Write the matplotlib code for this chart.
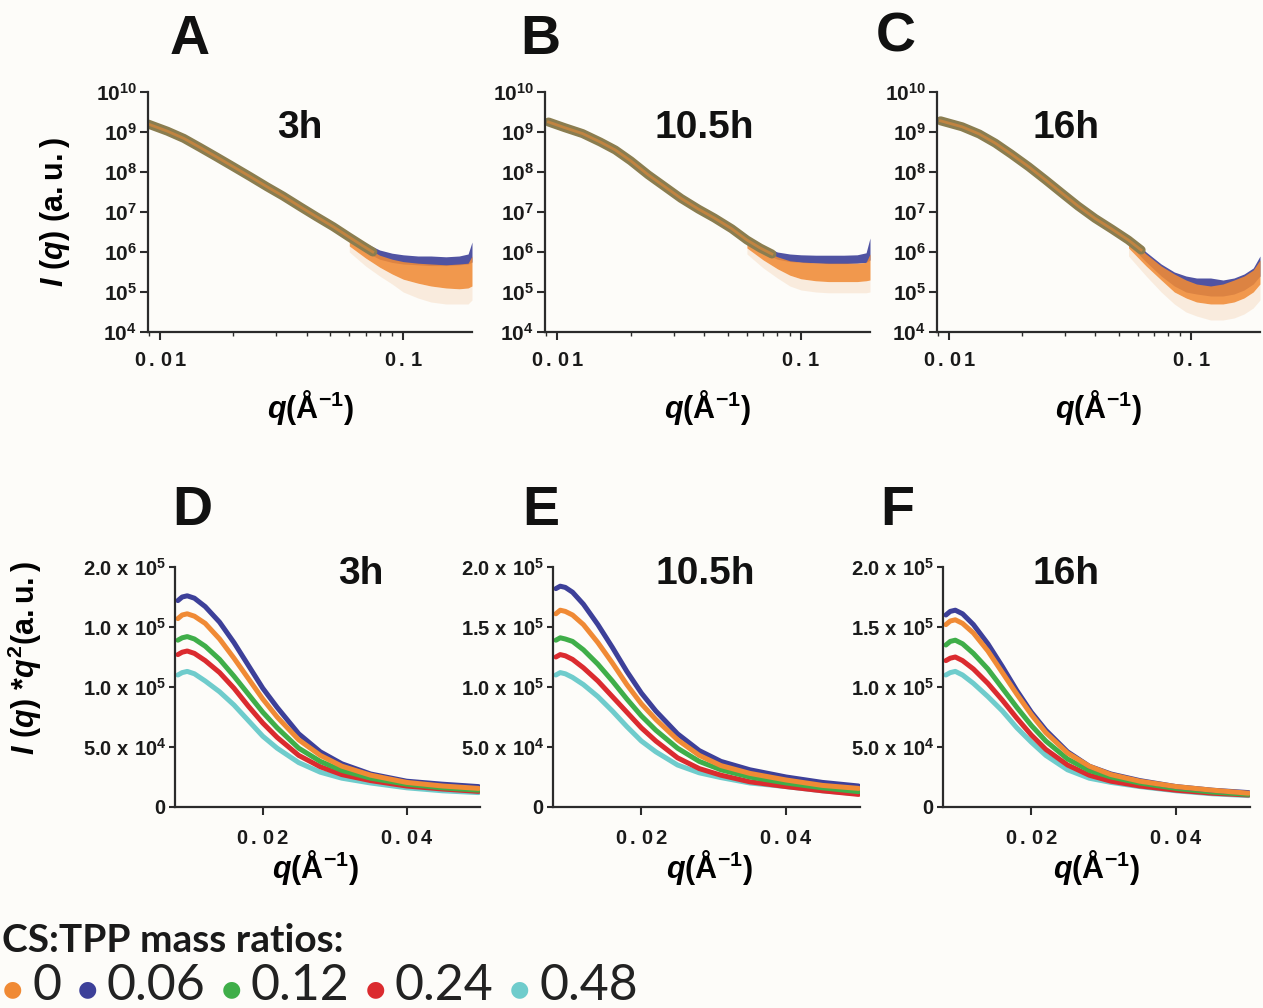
import numpy as np
import matplotlib
matplotlib.use('Agg')
import matplotlib.pyplot as plt
from matplotlib.ticker import FixedLocator, FixedFormatter, LogLocator, NullFormatter

plt.rcParams['font.family'] = 'Liberation Sans'
plt.rcParams['font.weight'] = 'bold'
plt.rcParams['mathtext.fontset'] = 'custom'
plt.rcParams['mathtext.rm'] = 'Liberation Sans:bold'
plt.rcParams['mathtext.it'] = 'Liberation Sans:italic:bold'
plt.rcParams['mathtext.bf'] = 'Liberation Sans:bold'

ratios = ['0', '0.06', '0.12', '0.24', '0.48']
colors = ['#f08a35', '#3d4099', '#3fae49', '#db2b2f', '#6fcccc']
times = ['3h', '10.5h', '16h']
top_letters = ['A', 'B', 'C']
bot_letters = ['D', 'E', 'F']

# I(q) profiles, log10 of intensity (all ratios overlap at low q)
saxs_q = [
    [0.0089, 0.0107, 0.0125, 0.0146, 0.0170, 0.0200, 0.0235, 0.0275, 0.0320, 0.0377, 0.0440, 0.0516, 0.0600, 0.0680, 0.0750],
    [0.0092, 0.0107, 0.0127, 0.0150, 0.0173, 0.0200, 0.0236, 0.0275, 0.0322, 0.0380, 0.0441, 0.0520, 0.0600, 0.0680, 0.0760],
    [0.0092, 0.0113, 0.0133, 0.0155, 0.0180, 0.0213, 0.0250, 0.0292, 0.0340, 0.0400, 0.0470, 0.0549, 0.0620],
]
saxs_logI = [
    [9.20, 9.02, 8.84, 8.61, 8.38, 8.13, 7.88, 7.63, 7.40, 7.13, 6.88, 6.63, 6.37, 6.16, 6.00],
    [9.25, 9.11, 8.96, 8.75, 8.55, 8.28, 7.93, 7.64, 7.34, 7.07, 6.85, 6.58, 6.30, 6.10, 5.95],
    [9.28, 9.13, 8.95, 8.72, 8.45, 8.13, 7.80, 7.47, 7.15, 6.84, 6.57, 6.30, 6.05],
]

# high-q scatter envelopes (log10 I) for 0.06 (blue) and 0 (orange)
tail_q = [
    [0.060, 0.070, 0.080, 0.090, 0.100, 0.115, 0.130, 0.150, 0.170, 0.185, 0.192],
    [0.060, 0.070, 0.080, 0.090, 0.100, 0.115, 0.130, 0.150, 0.170, 0.185, 0.192],
    [0.055, 0.065, 0.075, 0.085, 0.095, 0.105, 0.120, 0.135, 0.150, 0.165, 0.180, 0.192],
]
blue_hi = [
    [6.45, 6.22, 6.05, 5.97, 5.93, 5.90, 5.90, 5.88, 5.90, 5.95, 6.25],
    [6.40, 6.15, 6.00, 5.95, 5.93, 5.92, 5.92, 5.92, 5.93, 5.98, 6.35],
    [6.40, 6.00, 5.70, 5.50, 5.40, 5.35, 5.35, 5.30, 5.35, 5.45, 5.60, 5.90],
]
blue_lo = [
    [6.30, 6.00, 5.82, 5.74, 5.70, 5.68, 5.66, 5.66, 5.68, 5.70, 5.75],
    [6.25, 5.98, 5.82, 5.76, 5.74, 5.72, 5.71, 5.71, 5.72, 5.74, 5.80],
    [6.20, 5.75, 5.40, 5.15, 5.00, 4.95, 4.90, 4.90, 4.95, 5.05, 5.20, 5.40],
]
orange_hi = [
    [6.38, 6.12, 5.92, 5.82, 5.76, 5.72, 5.70, 5.68, 5.70, 5.72, 5.90],
    [6.32, 6.05, 5.88, 5.78, 5.75, 5.73, 5.72, 5.72, 5.72, 5.74, 5.95],
    [6.35, 5.95, 5.65, 5.45, 5.30, 5.20, 5.15, 5.20, 5.30, 5.40, 5.55, 5.80],
]
orange_lo = [
    [6.15, 5.85, 5.62, 5.45, 5.32, 5.22, 5.15, 5.10, 5.08, 5.10, 5.15],
    [6.10, 5.80, 5.58, 5.42, 5.33, 5.28, 5.26, 5.26, 5.26, 5.28, 5.30],
    [6.10, 5.65, 5.30, 5.00, 4.85, 4.75, 4.70, 4.70, 4.75, 4.85, 5.00, 5.20],
]
sparse_lo = [
    [6.00, 5.65, 5.40, 5.20, 5.00, 4.85, 4.75, 4.70, 4.70, 4.70, 4.80],
    [5.95, 5.60, 5.35, 5.15, 5.05, 5.00, 4.98, 4.98, 4.98, 4.98, 5.00],
    [5.90, 5.40, 5.00, 4.70, 4.50, 4.40, 4.30, 4.30, 4.35, 4.45, 4.60, 4.80],
]

# Kratky curves I(q)*q^2, one list per ratio (0, 0.06, 0.12, 0.24, 0.48)
kratky_q = [0.0082, 0.0088, 0.0095, 0.0105, 0.012, 0.014, 0.016, 0.018, 0.020,
            0.022, 0.025, 0.028, 0.031, 0.035, 0.040, 0.045, 0.050]
kratky_3h = [
    [157e3, 160e3, 161e3, 159e3, 153e3, 140e3, 124e3, 107e3, 90e3, 75e3, 56e3, 43e3, 34e3, 26.5e3, 20.5e3, 17.5e3, 15.5e3],
    [172e3, 175e3, 176e3, 174e3, 167e3, 154e3, 137e3, 118e3, 99e3, 83e3, 61e3, 46e3, 36e3, 27.5e3, 21.5e3, 19e3, 17e3],
    [139e3, 141e3, 142e3, 140e3, 134e3, 123e3, 109e3, 94e3, 79e3, 66e3, 49e3, 38e3, 30.5e3, 24e3, 19e3, 16e3, 14e3],
    [127e3, 129e3, 130e3, 128e3, 122e3, 112e3, 99e3, 84e3, 70e3, 58e3, 43e3, 33.5e3, 27e3, 22e3, 17.5e3, 15e3, 13e3],
    [110e3, 112e3, 113e3, 111e3, 105e3, 96e3, 85e3, 72e3, 59e3, 49e3, 37e3, 29e3, 24e3, 20e3, 16e3, 13.5e3, 12e3],
]
kratky_10h = [
    [161e3, 164e3, 163e3, 160e3, 152e3, 137e3, 120e3, 102e3, 86e3, 73e3, 56e3, 43e3, 34.5e3, 28e3, 22.5e3, 18e3, 15.5e3],
    [182e3, 184e3, 183e3, 179e3, 169e3, 152e3, 133e3, 113e3, 95e3, 80e3, 61e3, 47e3, 38e3, 31e3, 25e3, 20.5e3, 17.5e3],
    [139e3, 141e3, 140e3, 138e3, 131e3, 119e3, 105e3, 90e3, 76e3, 64e3, 49e3, 38e3, 31e3, 25e3, 20e3, 16e3, 12.8e3],
    [125e3, 127e3, 126e3, 123e3, 116e3, 105e3, 92e3, 79e3, 66e3, 55e3, 41e3, 32e3, 26.5e3, 21e3, 17e3, 13.5e3, 10.5e3],
    [110e3, 112e3, 111e3, 108e3, 102e3, 92e3, 80e3, 67e3, 55e3, 46e3, 35e3, 28.5e3, 24.5e3, 20e3, 17e3, 13.5e3, 11e3],
]
kratky_16h = [
    [152e3, 155e3, 156e3, 153e3, 145e3, 130e3, 112e3, 94e3, 77e3, 62e3, 45e3, 34e3, 27e3, 21.5e3, 17e3, 14e3, 11.5e3],
    [160e3, 163e3, 164e3, 161e3, 152e3, 136e3, 117e3, 97e3, 79e3, 64e3, 46e3, 34e3, 27.5e3, 22e3, 17e3, 14e3, 12e3],
    [135e3, 138e3, 139e3, 136e3, 128e3, 115e3, 99e3, 83e3, 68e3, 55e3, 40e3, 30.5e3, 25e3, 20e3, 15.5e3, 12.5e3, 10.5e3],
    [122e3, 124e3, 125e3, 122e3, 115e3, 103e3, 89e3, 74e3, 60e3, 48e3, 35e3, 26.5e3, 21.5e3, 17.5e3, 14e3, 11.5e3, 10e3],
    [110e3, 112e3, 113e3, 110e3, 103e3, 92e3, 80e3, 66e3, 54e3, 43e3, 31e3, 24e3, 20.5e3, 17e3, 13.5e3, 11e3, 9.5e3],
]
kratky = [kratky_3h, kratky_10h, kratky_16h]

top_yticks = [1e4, 1e5, 1e6, 1e7, 1e8, 1e9, 1e10]
top_ylabels = [r'$10^{4}$', r'$10^{5}$', r'$10^{6}$', r'$10^{7}$', r'$10^{8}$', r'$10^{9}$', r'$10^{10}$']
bot_yticks = [0, 5e4, 1e5, 1.5e5, 2e5]
bot_ylabels = [
    [r'$0$', r'$5.0\ \mathrm{x}\ 10^{4}$', r'$1.0\ \mathrm{x}\ 10^{5}$', r'$1.0\ \mathrm{x}\ 10^{5}$', r'$2.0\ \mathrm{x}\ 10^{5}$'],
    [r'$0$', r'$5.0\ \mathrm{x}\ 10^{4}$', r'$1.0\ \mathrm{x}\ 10^{5}$', r'$1.5\ \mathrm{x}\ 10^{5}$', r'$2.0\ \mathrm{x}\ 10^{5}$'],
    [r'$0$', r'$5.0\ \mathrm{x}\ 10^{4}$', r'$1.0\ \mathrm{x}\ 10^{5}$', r'$1.5\ \mathrm{x}\ 10^{5}$', r'$2.0\ \mathrm{x}\ 10^{5}$'],
]

W, H = 1263, 1008
fig = plt.figure(figsize=(W / 100, H / 100), dpi=100, facecolor='#fdfcf9')
ink = '#2b2b2b'


def px_axes(left, top, right, bottom):
    return fig.add_axes([left / W, 1 - bottom / H, (right - left) / W, (bottom - top) / H])


def style(ax):
    for s in ['top', 'right']:
        ax.spines[s].set_visible(False)
    for s in ['left', 'bottom']:
        ax.spines[s].set_linewidth(1.6)
        ax.spines[s].set_color(ink)
    ax.set_facecolor('none')
    ax.tick_params(which='major', length=6, width=1.5, color=ink, labelcolor='#1a1a1a')
    ax.tick_params(which='minor', length=3, width=1.0, color=ink)


xlabel = r'$q\mathrm{(\AA^{-1})}$'

# top row: log-log scattering profiles
top_boxes = [(148, 92, 472, 332), (545, 92, 870, 332), (937, 92, 1260, 332)]
title_top_x = [0.47, 0.49, 0.40]
for i, box in enumerate(top_boxes):
    ax = px_axes(*box)
    style(ax)
    ax.set_xscale('log')
    ax.set_yscale('log')
    tq = tail_q[i]
    ax.fill_between(tq, 10 ** np.array(sparse_lo[i]), 10 ** np.array(orange_lo[i]),
                    color='#eeb27a', alpha=0.22, lw=0)
    ax.fill_between(tq, 10 ** np.array(blue_lo[i]), 10 ** np.array(blue_hi[i]),
                    color=colors[1], alpha=0.9, lw=0)
    ax.fill_between(tq, 10 ** np.array(orange_lo[i]), 10 ** np.array(orange_hi[i]),
                    color=colors[0], alpha=0.88, lw=0)
    ax.plot(saxs_q[i], 10 ** np.array(saxs_logI[i]), color='#8a7d50', lw=6.5,
            solid_capstyle='round')
    ax.plot(saxs_q[i], 10 ** np.array(saxs_logI[i]), color=colors[0], lw=2, alpha=0.55)
    ax.set_xlim(0.0089, 0.192)
    ax.set_ylim(1e4, 1e10)
    ax.xaxis.set_major_locator(FixedLocator([0.01, 0.1]))
    ax.xaxis.set_major_formatter(FixedFormatter([r'$0\,.\,0\,1$', r'$0\,.\,1$']))
    ax.xaxis.set_minor_locator(LogLocator(base=10, subs=np.arange(2, 10)))
    ax.xaxis.set_minor_formatter(NullFormatter())
    ax.yaxis.set_major_locator(FixedLocator(top_yticks))
    ax.yaxis.set_major_formatter(FixedFormatter(top_ylabels))
    ax.yaxis.set_minor_locator(LogLocator(base=10, subs=np.arange(2, 10)))
    ax.yaxis.set_minor_formatter(NullFormatter())
    ax.tick_params(axis='x', which='major', labelsize=14.5, pad=8)
    ax.tick_params(axis='y', which='major', labelsize=15, pad=2)
    ax.set_xlabel(xlabel, fontsize=22)
    ax.xaxis.set_label_coords(0.5, -0.235)
    if i == 0:
        ax.set_ylabel(r'$I\ (q)\ \mathrm{(a.u.)}$', fontsize=22)
        ax.yaxis.set_label_coords(-0.235, 0.5)
    ax.text(title_top_x[i], 0.85, times[i], transform=ax.transAxes, fontsize=28,
            ha='center', va='center', color='#111111')

# bottom row: Kratky plots
bot_boxes = [(175, 567, 480, 807), (553, 567, 860, 807), (943, 567, 1250, 807)]
title_bot_x = [0.61, 0.495, 0.40]
xlabel_bot_x = [0.46, 0.51, 0.50]
for i, box in enumerate(bot_boxes):
    ax = px_axes(*box)
    style(ax)
    for k in [4, 3, 2, 1, 0]:
        ax.plot(kratky_q, kratky[i][k], color=colors[k], lw=3.6, solid_capstyle='round',
                solid_joinstyle='round')
    ax.set_xlim(0.0078, 0.0502)
    ax.set_ylim(0, 2e5)
    ax.xaxis.set_major_locator(FixedLocator([0.02, 0.04]))
    ax.xaxis.set_major_formatter(FixedFormatter([r'$0\,.\,0\,2$', r'$0\,.\,0\,4$']))
    ax.yaxis.set_major_locator(FixedLocator(bot_yticks))
    ax.yaxis.set_major_formatter(FixedFormatter(bot_ylabels[i]))
    ax.tick_params(axis='x', which='major', labelsize=14.5, pad=10)
    ax.tick_params(axis='y', which='major', labelsize=14.5, pad=2, length=4)
    ax.set_xlabel(xlabel, fontsize=22)
    ax.xaxis.set_label_coords(xlabel_bot_x[i], -0.17)
    if i == 0:
        ax.set_ylabel(r'$I\ (q)\ {*}q^{2}\mathrm{(a.u.)}$', fontsize=22)
        ax.yaxis.set_label_coords(-0.43, 0.62)
    ax.text(title_bot_x[i], 0.97, times[i], transform=ax.transAxes, fontsize=28,
            ha='center', va='center', color='#111111')

# panel letters
for lab, (x, y) in zip(top_letters + bot_letters,
                       [(190, 40), (540, 40), (896, 38), (192, 511), (541, 511), (897, 511)]):
    fig.text(x / W, 1 - y / H, lab, fontsize=40, ha='center', va='center', color='#111111')

# colour key
fig.text(2 / W, 1 - 940 / H, 'CS:TPP mass ratios:', family='Lato', weight='bold',
         fontsize=28, va='center', color='#1a1a1a')
renderer = fig.canvas.get_renderer()
x = 3
for lab, col in zip(ratios, colors):
    dot = fig.text(x / W, 1 - 989 / H, '\u25cf', family='DejaVu Sans', weight='normal',
                   fontsize=16, color=col, va='center')
    x += dot.get_window_extent(renderer).width + 10
    t = fig.text(x / W, 1 - 986 / H, lab, family='Lato', weight='normal',
                 fontsize=36, va='center', color='#222222')
    x += t.get_window_extent(renderer).width + 16

fig.savefig('out.png', dpi=100, facecolor=fig.get_facecolor())
